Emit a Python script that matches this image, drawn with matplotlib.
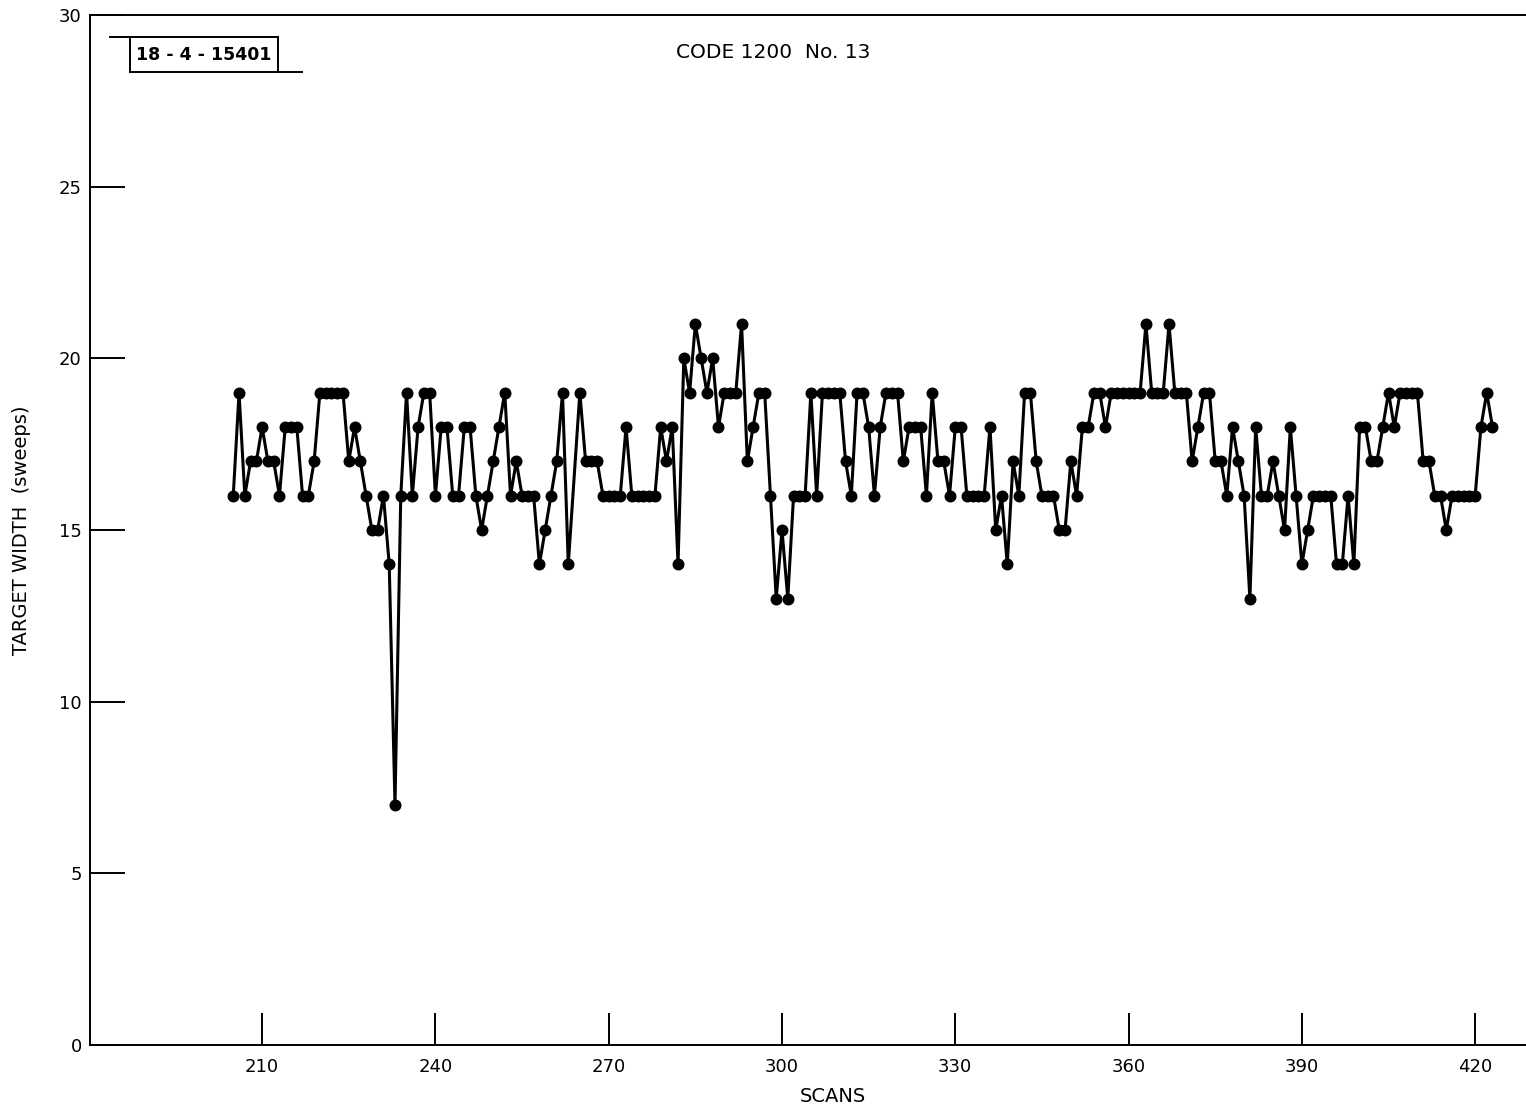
import matplotlib
matplotlib.use('Agg')
import matplotlib.pyplot as plt
import numpy as np
from matplotlib.lines import Line2D


# scans 205-263, then 265-423 (no point plotted at 264)
scans_a = list(range(205, 264))
widths_a = [16, 19, 16, 17, 17, 18, 17, 17, 16, 18,
            18, 18, 16, 16, 17, 19, 19, 19, 19, 19,
            17, 18, 17, 16, 15, 15, 16, 14, 7, 16,
            19, 16, 18, 19, 19, 16, 18, 18, 16, 16,
            18, 18, 16, 15, 16, 17, 18, 19, 16, 17,
            16, 16, 16, 14, 15, 16, 17, 19, 14]
scans_b = list(range(265, 424))
widths_b = [19, 17, 17, 17, 16, 16, 16, 16, 18, 16,
            16, 16, 16, 16, 18, 17, 18, 14, 20, 19,
            21, 20, 19, 20, 18, 19, 19, 19, 21, 17,
            18, 19, 19, 16, 13, 15, 13, 16, 16, 16,
            19, 16, 19, 19, 19, 19, 17, 16, 19, 19,
            18, 16, 18, 19, 19, 19, 17, 18, 18, 18,
            16, 19, 17, 17, 16, 18, 18, 16, 16, 16,
            16, 18, 15, 16, 14, 17, 16, 19, 19, 17,
            16, 16, 16, 15, 15, 17, 16, 18, 18, 19,
            19, 18, 19, 19, 19, 19, 19, 19, 21, 19,
            19, 19, 21, 19, 19, 19, 17, 18, 19, 19,
            17, 17, 16, 18, 17, 16, 13, 18, 16, 16,
            17, 16, 15, 18, 16, 14, 15, 16, 16, 16,
            16, 14, 14, 16, 14, 18, 18, 17, 17, 18,
            19, 18, 19, 19, 19, 19, 17, 17, 16, 16,
            15, 16, 16, 16, 16, 16, 18, 19, 18]

scans = np.array(scans_a + scans_b)
widths = np.array(widths_a + widths_b)

x_ticks = [210, 240, 270, 300, 330, 360, 390, 420]
y_ticks = [0, 5, 10, 15, 20, 25, 30]

W, H = 1526, 1112
fig = plt.figure(figsize=(W / 100, H / 100), dpi=100)
ax = fig.add_axes([90 / W, (H - 1045) / H, 1 - 90 / W, (1045 - 15) / H])

ax.plot(scans, widths, color='black', lw=2.2, marker='o', ms=7.6,
        mfc='black', mec='black')

ax.set_xlim(180.2, 428.8)
ax.set_ylim(0, 30)
ax.set_xticks(x_ticks)
ax.set_yticks(y_ticks)
ax.tick_params(direction='in', width=1.4, labelsize=13, colors='black')
ax.tick_params(axis='x', length=23, pad=9)
ax.tick_params(axis='y', length=25, pad=6)
ax.spines['right'].set_visible(False)
for s in ['left', 'bottom', 'top']:
    ax.spines[s].set_linewidth(1.4)

ax.set_xlabel('SCANS', fontsize=14)
ax.xaxis.set_label_coords((833 - 90) / (W - 90), -0.041)
ax.set_ylabel('TARGET WIDTH  (sweeps)', fontsize=14)
ax.yaxis.set_label_coords(-0.041, 0.5)

fig.text(773 / W, 1 - 53 / H, 'CODE 1200  No. 13', fontsize=14.5,
         ha='center', va='center')

# id box in the corner
fig.text(204 / W, 1 - 55 / H, '18 - 4 - 15401', fontsize=12.5,
         ha='center', va='center', fontweight='bold')
box = [((110, 37), (278, 37)), ((130, 37), (130, 72)), ((278, 37), (278, 72)),
       ((130, 72), (302, 72))]
for (x0, y0), (x1, y1) in box:
    fig.add_artist(Line2D([x0 / W, x1 / W], [1 - y0 / H, 1 - y1 / H],
                          color='black', lw=1.4))

fig.savefig('out.png', dpi=100, facecolor='white')
